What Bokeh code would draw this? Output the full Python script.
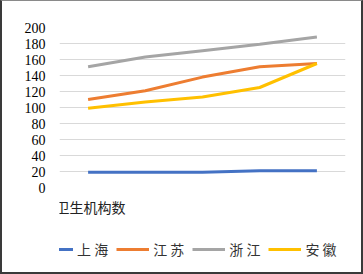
from bokeh.plotting import figure
from bokeh.models import Legend, LegendItem, Label, Range1d
from bokeh.layouts import column
from bokeh.embed import file_html
from bokeh.resources import INLINE

categories = ["1", "2", "3", "4", "5"]
shanghai = [19, 19, 19, 21, 21]
jiangsu = [110, 121, 138, 151, 155]
zhejiang = [151, 163, 171, 179, 188]
anhui = [99, 107, 113, 125, 155]
y_ticks = [0, 20, 40, 60, 80, 100, 120, 140, 160, 180, 200]

series = [
    ("上 海", shanghai, "#4472C4"),
    ("江 苏", jiangsu, "#ED7D31"),
    ("浙 江", zhejiang, "#A5A5A5"),
    ("安 徽", anhui, "#FFC000"),
]

# main chart
p = figure(width=363, height=196, x_range=categories, y_range=Range1d(0, 200),
           output_backend="svg", toolbar_location=None, title=None,
           min_border_left=57, min_border_right=20, min_border_top=26, min_border_bottom=10)
p.outline_line_color = None
p.background_fill_color = "white"
p.border_fill_color = "white"
p.styles = {"border-top": "1px solid #8a8a8a", "border-left": "2px solid #3a3a3a",
            "border-right": "2px solid #3a3a3a", "box-sizing": "border-box"}

p.xaxis.visible = False
p.xgrid.grid_line_color = None
p.ygrid.grid_line_color = "#D9D9D9"
p.ygrid.grid_line_width = 1
p.yaxis.ticker = y_ticks
p.yaxis.axis_line_color = None
p.yaxis.major_tick_line_color = None
p.yaxis.minor_tick_line_color = None
p.yaxis.major_tick_out = 0
p.yaxis.major_label_standoff = 14
p.yaxis.major_label_text_font = "'Liberation Serif', serif"
p.yaxis.major_label_text_font_size = "14px"
p.yaxis.major_label_text_color = "#000000"

for name, vals, color in series:
    p.line(categories, vals, line_color=color, line_width=3)

# lower strip: axis caption and legend
q = figure(width=363, height=78, x_range=categories, y_range=Range1d(1000, 1001),
           output_backend="svg", toolbar_location=None, title=None,
           min_border_left=0, min_border_right=0, min_border_top=0, min_border_bottom=0)
q.outline_line_color = None
q.axis.visible = False
q.grid.grid_line_color = None
q.background_fill_color = "white"
q.border_fill_color = "white"
q.styles = {"border-bottom": "2px solid #3a3a3a", "border-left": "2px solid #3a3a3a",
            "border-right": "2px solid #3a3a3a", "box-sizing": "border-box"}

items = []
for name, vals, color in series:
    r = q.line(categories, vals, line_color=color, line_width=3)
    items.append(LegendItem(label=name, renderers=[r]))

legend = Legend(items=items, orientation="horizontal", location=(-19, 15),
                glyph_width=33, glyph_height=14, label_standoff=4, spacing=8,
                padding=0, margin=0, border_line_color=None, background_fill_alpha=0,
                label_text_font="'Noto Sans CJK SC'", label_text_font_size="14px",
                label_text_color="#333333")
q.add_layout(legend, "center")

lab = Label(x=-4, y=68, x_units="screen", y_units="screen", text="卫生机构数",
            text_baseline="middle", text_align="left",
            text_font="'Noto Sans CJK SC'", text_font_size="14px", text_color="#222222")
q.add_layout(lab)

layout = column(p, q, spacing=0)
open("out.html", "w").write(file_html(layout, INLINE))
